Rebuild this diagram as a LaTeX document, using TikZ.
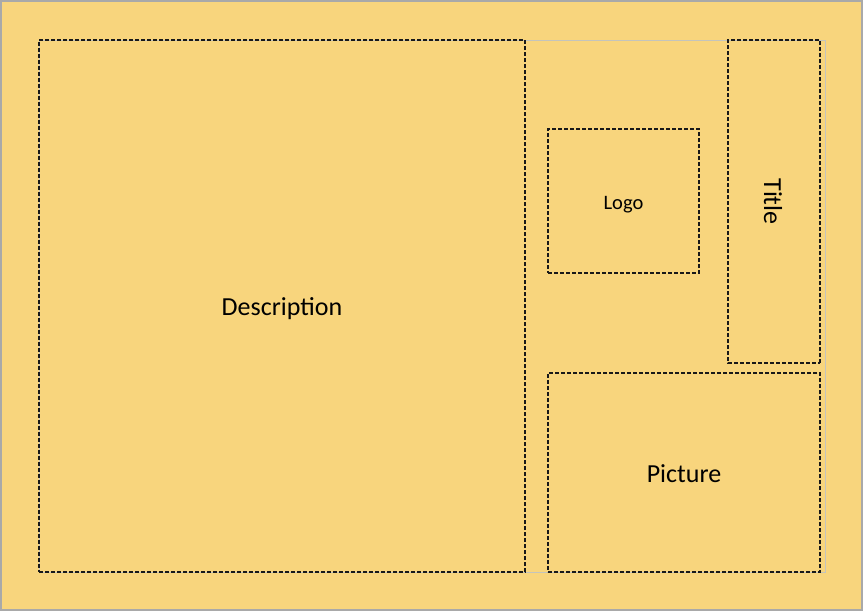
\documentclass[tikz,border=0pt]{standalone}
\usepackage{fontspec}
\setmainfont{Carlito}
\definecolor{sheet}{HTML}{F8D57D}
\definecolor{frame}{HTML}{A9A9A9}
\definecolor{guide}{HTML}{C4C4BC}
\begin{document}
\begin{tikzpicture}[x=1pt,y=-1pt,
        zone/.style={draw=black!90,line width=1.1pt,dash pattern=on 4pt off 2pt,inner sep=0pt,text depth=0pt,font=\fontsize{26}{30}\selectfont}]
            \useasboundingbox (0,0) rectangle (863,611);
            \fill[sheet] (0,0) rectangle (863,611);
            \draw[frame,line width=1.6pt] (0.8,0.8) rectangle (862.2,610.2);
            \draw[guide,line width=0.8pt] (39,40) rectangle (825,572);
            \node (desc) at (282,306)[zone,text height=18pt,minimum width=486,minimum height=532]{Description};
            \node (logo) at (623.5,201)[zone,text height=16pt,minimum width=151,minimum height=144,font=\fontsize{20.5}{24}\selectfont]{Logo};
            \node (title) at (774,201.5)[zone,rotate=-90,text height=20pt,minimum width=323,minimum height=92]{Title};
            \node (pic) at (684,472.5)[zone,text height=19pt,minimum width=272,minimum height=199]{Picture};
        \end{tikzpicture}
\end{document}
